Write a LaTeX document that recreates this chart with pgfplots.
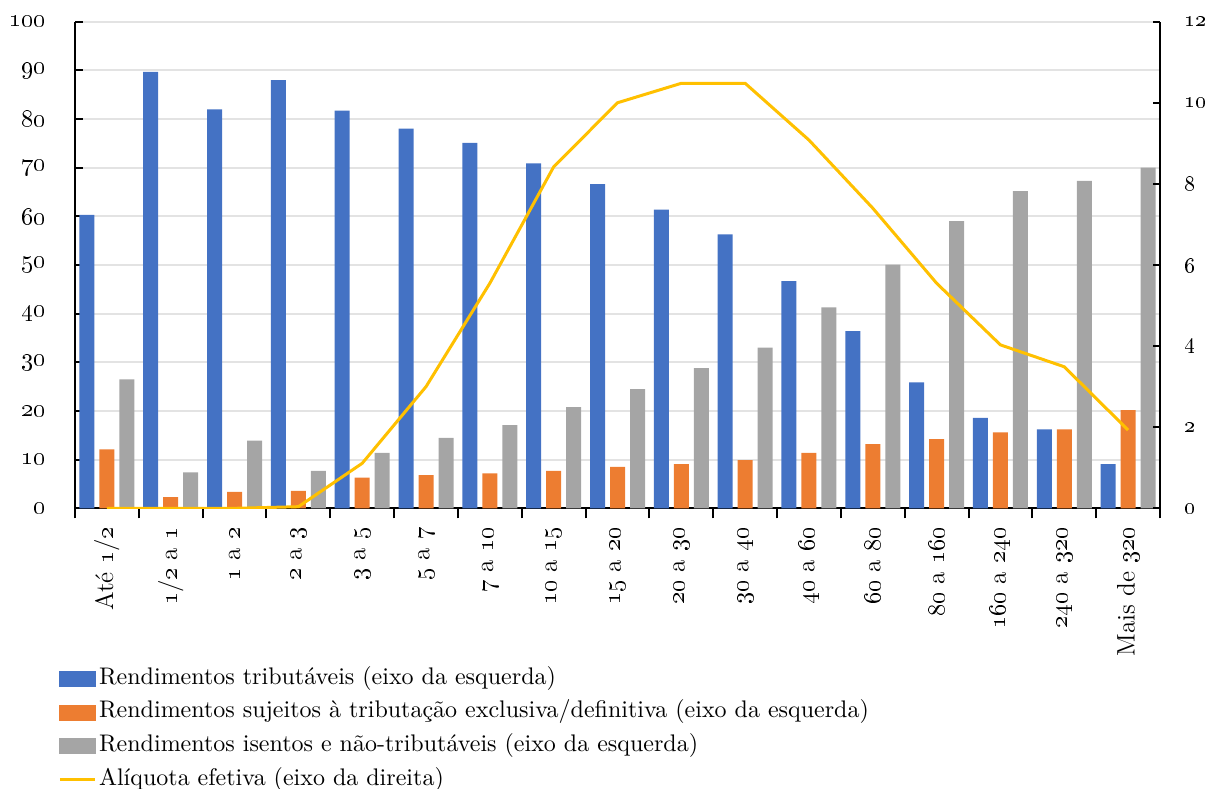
\documentclass[border=0pt]{standalone}
\usepackage{pgfplots}
\pgfplotsset{compat=1.18}
\newcommand{\os}[1]{\oldstylenums{#1}}
\definecolor{cblue}{HTML}{4472C4}
\definecolor{corange}{HTML}{ED7D31}
\definecolor{cgray}{HTML}{A5A5A5}
\definecolor{cyellow}{HTML}{FFC000}
\definecolor{cgrid}{HTML}{E3E3E3}
\pgfplotstableread{
x blue orange gray
0 60.3 12.1 26.5
1 89.7 2.3 7.4
2 82.0 3.4 13.9
3 88.0 3.6 7.7
4 81.7 6.3 11.4
5 78.0 6.8 14.5
6 75.1 7.2 17.1
7 70.9 7.7 20.8
8 66.6 8.5 24.5
9 61.4 9.1 28.8
10 56.3 9.9 33.0
11 46.7 11.4 41.3
12 36.4 13.2 50.1
13 25.9 14.2 59.0
14 18.6 15.6 65.2
15 16.2 16.2 67.3
16 9.1 20.2 70.0
}\bars
\pgfplotstableread{
x rate
0 0.0
1 0.0
2 0.0
3 0.04
4 1.11
5 3.0
6 5.55
7 8.42
8 10.0
9 10.48
10 10.48
11 9.08
12 7.40
13 5.55
14 4.03
15 3.49
16 1.93
}\rate
\begin{document}
\begin{tikzpicture}
\path[use as bounding box] (0,0) rectangle (544.05pt,355.05pt);
\begin{axis}[
  at={(33.75pt,126.3pt)}, anchor=south west,
  scale only axis, width=488.25pt, height=219pt,
  xmin=-0.5, xmax=16.5, ymin=0, ymax=100,
  axis x line*=bottom, axis y line*=left,
  axis line style={black, line width=0.9pt},
  ytick={0,10,...,100},
  yticklabels={\os{0},\os{10},\os{20},\os{30},\os{40},\os{50},\os{60},\os{70},\os{80},\os{90},\os{100}},
  yticklabel style={xshift=-9.5pt, font=\fontsize{10.5}{12}\selectfont},
  xtick={0,...,16},
  xticklabels={{Até \os{1}/\os{2}},{\os{1}/\os{2} a \os{1}},{\os{1} a \os{2}},{\os{2} a \os{3}},{\os{3} a \os{5}},{\os{5} a \os{7}},{\os{7} a \os{10}},{\os{10} a \os{15}},{\os{15} a \os{20}},{\os{20} a \os{30}},{\os{30} a \os{40}},{\os{40} a \os{60}},{\os{60} a \os{80}},{\os{80} a \os{160}},{\os{160} a \os{240}},{\os{240} a \os{320}},{Mais de \os{320}}},
  xticklabel style={yshift=-5pt, rotate=90, anchor=east, font=\fontsize{11.4}{13}\selectfont},
  minor xtick={-0.5,0.5,...,16.5},
  tick align=inside,
  major tick length=3.6pt,
  x tick style={draw=none},
  minor x tick style={draw=black, line width=0.9pt, yshift=-4.5pt},
  minor tick length=4.5pt,
  y tick style={black, line width=0.9pt},
  ymajorgrids, grid style={cgrid, line width=0.8pt},
  legend style={at={(axis description cs:-0.0157,-0.322)}, anchor=north west,
    draw=none, fill=none, inner sep=0pt, row sep=2.9pt, column sep=0pt,
    font=\fontsize{10.8}{13}\selectfont,
    nodes={inner sep=1pt, text height=7.5pt, text depth=2.7pt}},
  legend cell align=left,
]
\addplot[ybar, bar width=6.75pt, bar shift=-9pt, fill=cblue, draw=none, forget plot] table[x=x,y=blue]{\bars};
\addplot[ybar, bar width=6.75pt, bar shift=0pt, fill=corange, draw=none, forget plot] table[x=x,y=orange]{\bars};
\addplot[ybar, bar width=6.75pt, bar shift=9pt, fill=cgray, draw=none, forget plot] table[x=x,y=gray]{\bars};
\addlegendimage{legend image code/.code={\fill[cblue] (0pt,-3.4pt) rectangle (16pt,3.4pt);}}
\addlegendentry{Rendimentos tributáveis (eixo da esquerda)}
\addlegendimage{legend image code/.code={\fill[corange] (0pt,-3.4pt) rectangle (16pt,3.4pt);}}
\addlegendentry{Rendimentos sujeitos à tributação exclusiva/definitiva (eixo da esquerda)}
\addlegendimage{legend image code/.code={\fill[cgray] (0pt,-3.4pt) rectangle (16pt,3.4pt);}}
\addlegendentry{Rendimentos isentos e não-tributáveis (eixo da esquerda)}
\addlegendimage{legend image code/.code={\draw[cyellow, line width=1.3pt] (0pt,0pt) -- (16pt,0pt);}}
\addlegendentry{Alíquota efetiva (eixo da direita)}
\end{axis}
\begin{axis}[
  at={(33.75pt,126.3pt)}, anchor=south west,
  scale only axis, width=488.25pt, height=219pt,
  xmin=-0.5, xmax=16.5, ymin=0, ymax=12,
  axis x line=none, axis y line*=right,
  axis line style={black, line width=0.9pt},
  ytick={0,2,...,12},
  yticklabels={\os{0},\os{2},\os{4},\os{6},\os{8},\os{10},\os{12}},
  yticklabel style={xshift=7.3pt, font=\fontsize{10}{12}\selectfont},
  tick align=inside, major tick length=3.2pt,
  y tick style={black, line width=0.9pt},
]
\addplot[cyellow, line width=1.35pt, mark=none] table[x=x,y=rate]{\rate};
\end{axis}
\end{tikzpicture}
\end{document}
